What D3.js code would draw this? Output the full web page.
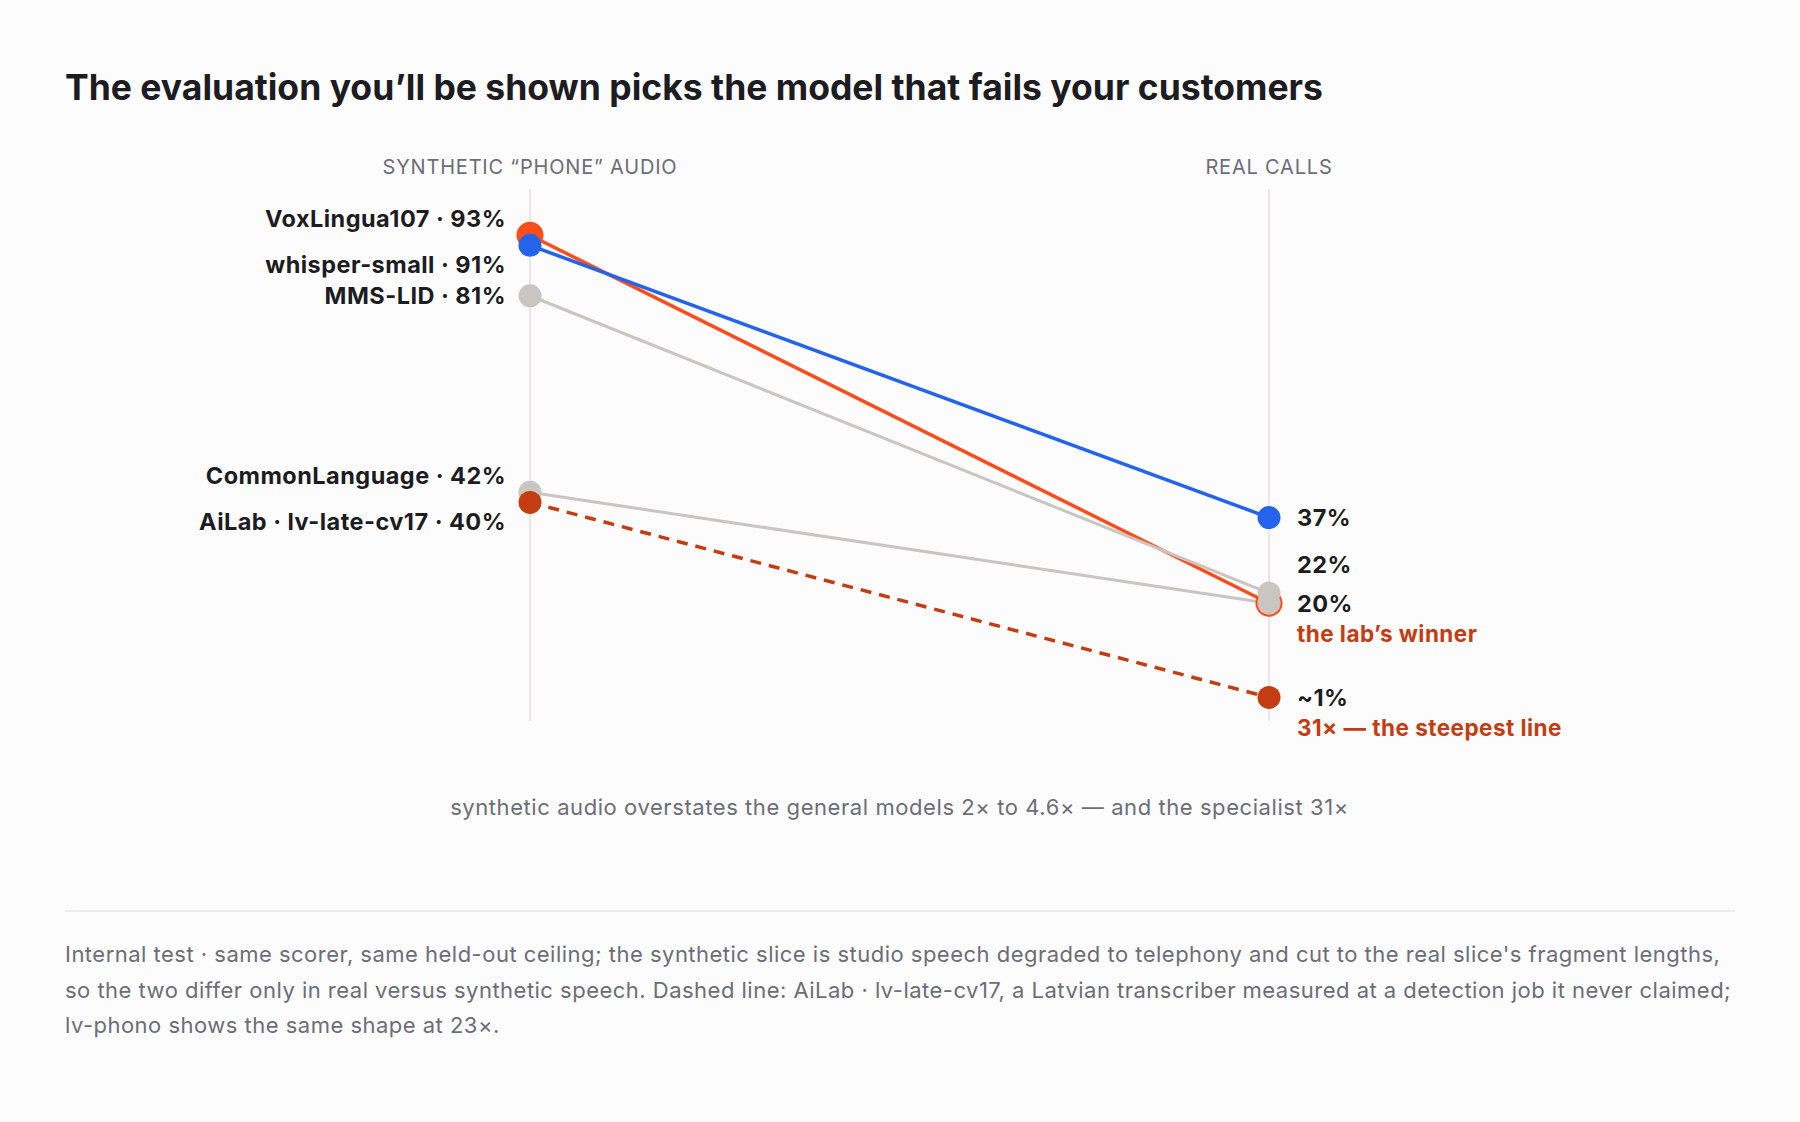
<!DOCTYPE html>
<html>
<head>
<meta charset="utf-8">
<script src="https://cdn.jsdelivr.net/npm/d3@7"></script>
<style>
  html, body { margin: 0; padding: 0; background: #fcfcfc; }
  svg { display: block; font-family: Inter, "Noto Sans", sans-serif; }
</style>
</head>
<body>
<div id="chart"></div>
<script>
// ======================
// 1. DATA
// ======================
const columns = ["SYNTHETIC \u201CPHONE\u201D AUDIO", "REAL CALLS"];
const models = ["VoxLingua107", "whisper-small", "MMS-LID", "CommonLanguage", "AiLab \u00B7 lv-late-cv17"];
const syntheticAcc = [93, 91, 81, 42, 40];
const realAcc = [20, 37, 22, 20, 1.3];
const realText = ["20%", "37%", "22%", "20%", "~1%"];
const notes = ["the lab\u2019s winner", null, null, null, "31\u00D7 \u2014 the steepest line"];

const title = "The evaluation you\u2019ll be shown picks the model that fails your customers";
const caption = "synthetic audio overstates the general models 2\u00D7 to 4.6\u00D7 \u2014 and the specialist 31\u00D7";
const footnote = [
  "Internal test \u00B7 same scorer, same held-out ceiling; the synthetic slice is studio speech degraded to telephony and cut to the real slice's fragment lengths,",
  "so the two differ only in real versus synthetic speech. Dashed line: AiLab \u00B7 lv-late-cv17, a Latvian transcriber measured at a detection job it never claimed;",
  "lv-phono shows the same shape at 23\u00D7."
];

// ======================
// 2. CONFIGURATION
// ======================
const config = {
  width: 1800,
  height: 1122,
  colors: {
    "VoxLingua107": "#ff4d1c",
    "whisper-small": "#2563eb",
    "MMS-LID": "#c9c6c1",
    "CommonLanguage": "#c9c6c1",
    "AiLab \u00B7 lv-late-cv17": "#c43c12"
  },
  dashed: "AiLab \u00B7 lv-late-cv17",
  winner: "VoxLingua107",
  ink: "#1c1c22",
  muted: "#6d6d77",
  note: "#c43c12",
  rule: "#e9e7e3"
};

// ======================
// 3. DRAW
// ======================
const svg = d3.select("#chart")
  .append("svg")
  .attr("width", config.width)
  .attr("height", config.height);

svg.append("rect")
  .attr("width", config.width)
  .attr("height", config.height)
  .attr("fill", "#fcfcfc");

svg.append("text")
  .attr("x", 65)
  .attr("y", 100)
  .attr("font-size", 35.5)
  .attr("font-weight", 700)
  .attr("fill", config.ink)
  .text(title);

const x = d3.scalePoint()
  .domain(columns)
  .range([530, 1269]);

const y = d3.scaleLinear()
  .domain([0, 100])
  .range([704, 200]);

const rows = models.map((m, i) => ({
  name: m,
  synth: syntheticAcc[i],
  real: realAcc[i],
  realText: realText[i],
  note: notes[i]
}));

// column rails + headers
const rails = svg.append("g");
columns.forEach(c => {
  rails.append("line")
    .attr("x1", x(c)).attr("x2", x(c))
    .attr("y1", y(100) - 11).attr("y2", y(0) + 17)
    .attr("stroke", config.rule)
    .attr("stroke-width", 2);

  rails.append("text")
    .attr("x", x(c))
    .attr("y", 174)
    .attr("text-anchor", "middle")
    .attr("font-size", 20)
    .attr("letter-spacing", "0.04em")
    .attr("fill", config.muted)
    .text(c);
});

// slope lines
svg.append("g")
  .selectAll("line")
  .data(rows)
  .enter()
  .append("line")
  .attr("x1", x(columns[0]))
  .attr("y1", d => y(d.synth))
  .attr("x2", x(columns[1]))
  .attr("y2", d => y(d.real))
  .attr("stroke", d => config.colors[d.name])
  .attr("stroke-width", d => config.colors[d.name] === "#c9c6c1" ? 3 : 3.5)
  .attr("stroke-dasharray", d => d.name === config.dashed ? "11 8" : null);

// dots
const dots = svg.append("g");
rows.forEach(d => {
  const r = d.name === config.winner ? 13.5 : 11.5;
  [[columns[0], d.synth], [columns[1], d.real]].forEach(([c, v]) => {
    dots.append("circle")
      .attr("cx", x(c))
      .attr("cy", y(v))
      .attr("r", r)
      .attr("fill", config.colors[d.name]);
  });
});

// left labels: spread pairs that sit too close
const left = rows.map(d => ({ d, y: y(d.synth), ly: y(d.synth) }))
  .sort((a, b) => a.y - b.y);
for (let i = 0; i < left.length - 1; i++) {
  if (left[i + 1].y - left[i].y < 20) {
    const mid = (left[i].y + left[i + 1].y) / 2 + 1;
    left[i].ly = mid - 23;
    left[i + 1].ly = mid + 23;
    i++;
  }
}

svg.append("g")
  .selectAll("text")
  .data(left)
  .enter()
  .append("text")
  .attr("x", x(columns[0]) - 24)
  .attr("y", d => d.ly)
  .attr("dy", "0.36em")
  .attr("text-anchor", "end")
  .attr("font-size", 23.5)
  .attr("font-weight", 700)
  .attr("letter-spacing", "0.02em")
  .attr("fill", config.ink)
  .text(d => `${d.d.name} \u00B7 ${d.d.synth}%`);

// right labels: one per value, pushed up from the bottom
const seen = new Set();
const right = rows
  .filter(d => !seen.has(d.real) && seen.add(d.real))
  .map(d => ({ d, y: y(d.real), ly: y(d.real) }))
  .sort((a, b) => b.y - a.y);
for (let i = 1; i < right.length; i++) {
  right[i].ly = Math.min(right[i].y, right[i - 1].ly - 39);
}

const rightG = svg.append("g");
right.forEach(r => {
  rightG.append("text")
    .attr("x", x(columns[1]) + 28)
    .attr("y", r.ly)
    .attr("dy", "0.36em")
    .attr("font-size", 23.5)
    .attr("font-weight", 700)
    .attr("letter-spacing", "0.02em")
    .attr("fill", config.ink)
    .text(r.d.realText);

  if (r.d.note) {
    rightG.append("text")
      .attr("x", x(columns[1]) + 28)
      .attr("y", r.ly + 39)
      .attr("font-size", 22.5)
      .attr("font-weight", 700)
      .attr("letter-spacing", "0.02em")
      .attr("fill", config.note)
      .text(r.d.note);
  }
});

// caption under the chart
svg.append("text")
  .attr("x", (x(columns[0]) + x(columns[1])) / 2)
  .attr("y", 815)
  .attr("text-anchor", "middle")
  .attr("font-size", 22)
  .attr("letter-spacing", "0.026em")
  .attr("fill", config.muted)
  .text(caption);

svg.append("line")
  .attr("x1", 65).attr("x2", 1735)
  .attr("y1", 911).attr("y2", 911)
  .attr("stroke", config.rule)
  .attr("stroke-width", 1.5);

svg.append("text")
  .attr("font-size", 22)
  .attr("letter-spacing", "0.022em")
  .attr("fill", config.muted)
  .selectAll("tspan")
  .data(footnote)
  .enter()
  .append("tspan")
  .attr("x", 65)
  .attr("y", (d, i) => 962 + i * 35.5)
  .text(d => d);
</script>
</body>
</html>
